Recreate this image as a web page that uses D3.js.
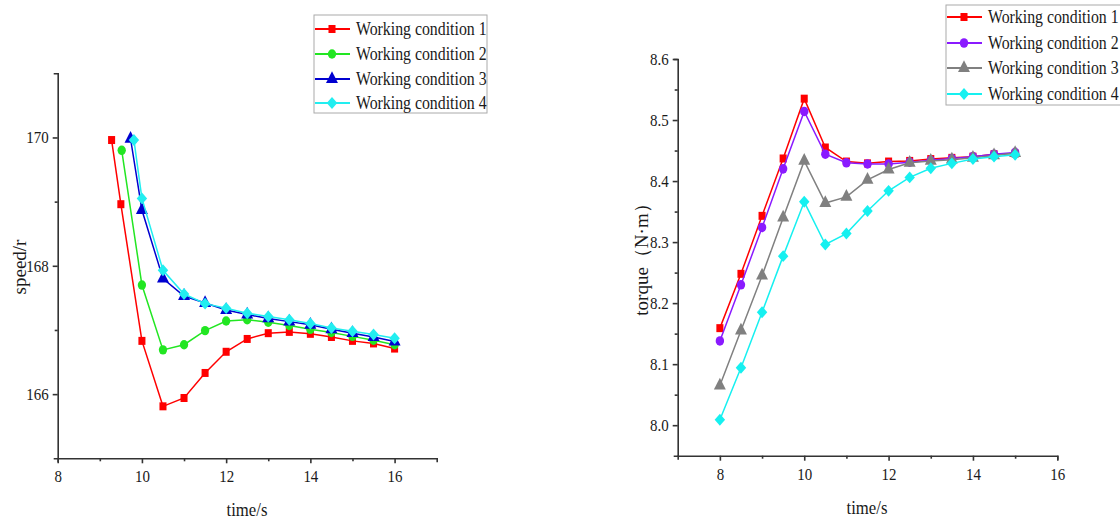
<!DOCTYPE html>
<html>
<head>
<meta charset="utf-8">
<script src="https://cdn.jsdelivr.net/npm/d3@7"></script>
<style>
  body { margin: 0; background: #fff; }
  text { font-family: "Liberation Serif", "Times New Roman", serif; fill: #1a1a1a; }
</style>
</head>
<body>
<div id="chart"></div>
<script>
// ---- data ----
var seriesNames = ["Working condition 1", "Working condition 2", "Working condition 3", "Working condition 4"];

// speed chart (left)
var speedTime = [9.5, 10, 10.5, 11, 11.5, 12, 12.5, 13, 13.5, 14, 14.5, 15, 15.5, 16];
var speedStart = [9.28, 9.52, 9.73, 9.81];
var speed1 = [169.96, 168.96, 166.83, 165.81, 165.94, 166.33, 166.66, 166.86, 166.95, 166.97, 166.94, 166.89, 166.83, 166.79, 166.71];
var speed2 = [169.80, 167.70, 166.69, 166.77, 166.99, 167.14, 167.16, 167.12, 167.07, 167.01, 166.96, 166.90, 166.84, 166.77];
var speed3 = [169.98, 168.87, 167.80, 167.53, 167.42, 167.31, 167.24, 167.18, 167.13, 167.08, 167.01, 166.95, 166.89, 166.82];
var speed4 = [169.96, 169.05, 167.93, 167.56, 167.41, 167.34, 167.26, 167.21, 167.16, 167.10, 167.03, 166.98, 166.93, 166.87];

// torque chart (right)
var torqueTime = [8, 8.5, 9, 9.5, 10, 10.5, 11, 11.5, 12, 12.5, 13, 13.5, 14, 14.5, 15];
var torque1 = [8.159, 8.248, 8.343, 8.437, 8.535, 8.455, 8.432, 8.429, 8.432, 8.433, 8.436, 8.438, 8.440, 8.444, 8.445];
var torque2 = [8.138, 8.230, 8.324, 8.420, 8.514, 8.444, 8.430, 8.428, 8.428, 8.431, 8.434, 8.437, 8.440, 8.444, 8.447];
var torque3 = [8.065, 8.155, 8.245, 8.340, 8.433, 8.364, 8.374, 8.402, 8.419, 8.430, 8.433, 8.435, 8.438, 8.442, 8.446];
var torque4 = [8.009, 8.094, 8.185, 8.277, 8.366, 8.296, 8.314, 8.351, 8.384, 8.406, 8.421, 8.429, 8.436, 8.440, 8.443];

var xTicks = [8, 10, 12, 14, 16];
var xMinorLeft = [9, 11, 13, 15];
var xMinorRight = [9, 11, 13, 15];
var speedTicks = [166, 168, 170];
var speedMinor = [167, 169];
var torqueTicks = [8.0, 8.1, 8.2, 8.3, 8.4, 8.5, 8.6];
var torqueMinor = [8.05, 8.15, 8.25, 8.35, 8.45, 8.55];

var svgWidth = 1120;
var svgHeight = 520;
var squeeze = 0.88; // picture is slightly squeezed horizontally

var svg = d3.select("#chart")
    .append("svg")
    .attr("width", svgWidth)
    .attr("height", svgHeight);

// build the left series: first point sits at its own start time, rest on the half-second grid
function speedSeries(start, vals) {
    var times = vals.length === speed1.length ? [start, 9.5].concat(speedTime.slice(1)) : [start].concat(speedTime.slice(1));
    return vals.map((v, i) => ({ x: times[i], y: v }));
}
var speedData = [
    speedSeries(speedStart[0], speed1),
    speedSeries(speedStart[1], speed2),
    speedSeries(speedStart[2], speed3),
    speedSeries(speedStart[3], speed4)
];
var torqueData = [torque1, torque2, torque3, torque4].map(vals => vals.map((v, i) => ({ x: torqueTime[i], y: v })));

var leftStyle = [
    { color: "#ff0000", symbol: d3.symbolSquare, size: 64 },
    { color: "#22e622", symbol: d3.symbolCircle, size: 70 },
    { color: "#0000d0", symbol: d3.symbolTriangle, size: 80 },
    { color: "#22eef0", symbol: d3.symbolDiamond2, size: 90 }
];
var rightStyle = [
    { color: "#ff0000", symbol: d3.symbolSquare, size: 64 },
    { color: "#8a1aff", symbol: d3.symbolCircle, size: 72 },
    { color: "#808080", symbol: d3.symbolTriangle, size: 80 },
    { color: "#16f0f0", symbol: d3.symbolDiamond2, size: 90 }
];

function drawPanel(opt) {
    var x = d3.scaleLinear().domain(opt.xDomain).range(opt.xRange);
    var y = d3.scaleLinear().domain(opt.yDomain).range(opt.yRange);
    var g = svg.append("g");

    // axes, major + minor ticks
    var xAxis = g.append("g")
        .attr("transform", `translate(0, ${opt.yRange[0]})`)
        .call(d3.axisBottom(x).tickValues(xTicks).tickSize(5).tickSizeOuter(4).tickPadding(7).tickFormat(d3.format("d")));
    g.append("g")
        .attr("transform", `translate(0, ${opt.yRange[0]})`)
        .call(d3.axisBottom(x).tickValues(opt.xMinor).tickSize(3).tickFormat(""))
        .select(".domain").remove();

    var yAxis = g.append("g")
        .attr("transform", `translate(${opt.xRange[0]}, 0)`)
        .call(d3.axisLeft(y).tickValues(opt.yTicks).tickSize(5).tickSizeOuter(4).tickPadding(5).tickFormat(opt.yFormat));
    g.append("g")
        .attr("transform", `translate(${opt.xRange[0]}, 0)`)
        .call(d3.axisLeft(y).tickValues(opt.yMinor).tickSize(3).tickFormat(""))
        .select(".domain").remove();

    g.selectAll(".domain, .tick line").attr("stroke", "#333").attr("stroke-width", 1.6);
    [xAxis, yAxis].forEach(a => a.selectAll("text")
        .attr("font-size", 17)
        .attr("font-family", "Liberation Serif")
        .attr("fill", "#1a1a1a"));
    xAxis.selectAll("text").attr("transform", `scale(${squeeze},1)`);
    yAxis.selectAll("text").attr("transform", `scale(${squeeze},1)`).attr("x", -9 / squeeze);

    // lines and markers
    var line = d3.line().x(d => x(d.x)).y(d => y(d.y));
    opt.data.forEach(function (series, i) {
        var st = opt.style[i];
        g.append("path")
            .datum(series)
            .attr("fill", "none")
            .attr("stroke", st.color)
            .attr("stroke-width", 1.5)
            .attr("d", line);
        g.append("g").selectAll("path")
            .data(series)
            .enter()
            .append("path")
            .attr("transform", d => `translate(${x(d.x)}, ${y(d.y)}) scale(${squeeze},1)`)
            .attr("d", d3.symbol().type(st.symbol).size(st.size))
            .attr("fill", st.color);
    });

    // axis titles
    g.append("text")
        .attr("transform", `translate(${opt.yTitlePos[0]}, ${opt.yTitlePos[1]}) rotate(-90)`)
        .attr("text-anchor", "middle")
        .attr("dy", "0.35em")
        .attr("font-size", 19)
        .text(opt.yTitle);
    g.append("text")
        .attr("transform", `translate(${opt.xTitlePos[0]}, ${opt.xTitlePos[1]}) scale(${squeeze},1)`)
        .attr("text-anchor", "middle")
        .attr("font-size", 19)
        .text("time/s");

    // legend
    var lg = opt.legend;
    svg.append("rect")
        .attr("x", lg.x).attr("y", lg.y)
        .attr("width", lg.w).attr("height", lg.h)
        .attr("fill", "#fff")
        .attr("stroke", "#aaa")
        .attr("stroke-width", 1);
    seriesNames.forEach(function (name, i) {
        var st = opt.style[i];
        var ry = lg.rows[i];
        svg.append("line")
            .attr("x1", lg.x + 1).attr("x2", lg.x + 36)
            .attr("y1", ry).attr("y2", ry)
            .attr("stroke", st.color).attr("stroke-width", 1.8);
        svg.append("path")
            .attr("transform", `translate(${lg.x + 18}, ${ry}) scale(${squeeze},1)`)
            .attr("d", d3.symbol().type(st.symbol).size(st.size))
            .attr("fill", st.color);
        svg.append("text")
            .attr("transform", `translate(${lg.x + 42}, ${ry}) scale(${squeeze},1)`)
            .attr("dy", "0.35em")
            .attr("font-size", 18)
            .text(name);
    });
}

drawPanel({
    xDomain: [8, 17], xRange: [57.7, 436.7],
    yDomain: [165, 171], yRange: [458.3, 73.3],
    xMinor: xMinorLeft, yTicks: speedTicks, yMinor: speedMinor,
    yFormat: d3.format("d"),
    data: speedData, style: leftStyle,
    yTitle: "speed/r", yTitlePos: [19, 267],
    xTitlePos: [247, 516],
    legend: { x: 314, y: 15, w: 173, h: 98, rows: [29, 54, 79, 103] }
});

drawPanel({
    xDomain: [7, 16], xRange: [677.7, 1057.3],
    yDomain: [7.95, 8.6], yRange: [455.7, 59],
    xMinor: xMinorRight, yTicks: torqueTicks, yMinor: torqueMinor,
    yFormat: d3.format(".1f"),
    data: torqueData, style: rightStyle,
    yTitle: "torque（N·m）", yTitlePos: [641, 255],
    xTitlePos: [867, 514],
    legend: { x: 946, y: 5, w: 180, h: 100, rows: [17, 43, 68, 94] }
});
</script>
</body>
</html>
